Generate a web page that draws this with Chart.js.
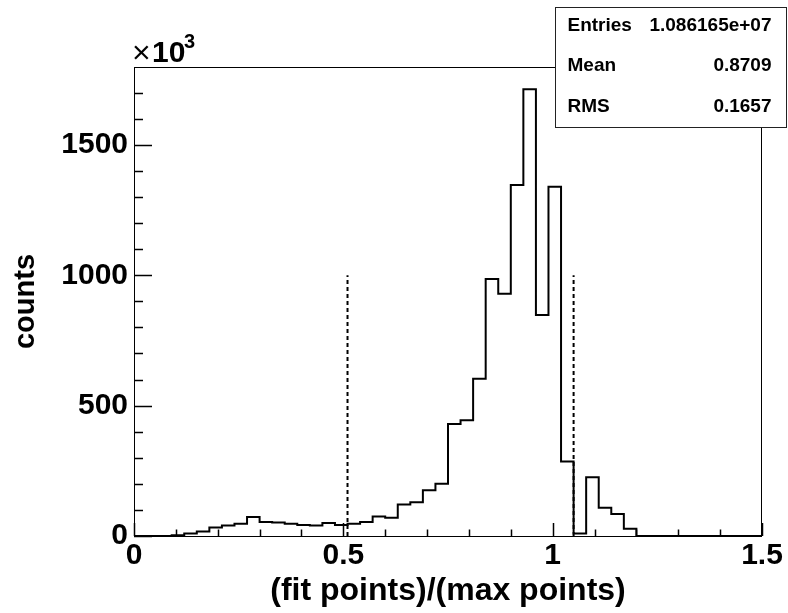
<!DOCTYPE html>
<html>
<head>
<meta charset="utf-8">
<script src="https://cdn.jsdelivr.net/npm/chart.js@4.4.1/dist/chart.umd.min.js"></script>
<style>
  html, body { margin: 0; padding: 0; background: #fff; }
  canvas { display: block; }
</style>
</head>
<body>
<canvas id="histCanvas" width="788" height="613"></canvas>
<script>
'use strict';
// histogram binning (fit points / max points)
const binLow = 0;
const binHigh = 1.5;
const binWidth = 0.03;
// bin contents, in units of 10^3 entries
const binCounts = [
  0, 0, 0, 2.5, 10, 17, 33, 40, 47, 73,
  54, 52, 47, 42, 40, 50, 42, 47, 54, 75,
  70, 121, 129, 175, 200, 430, 444, 603, 986, 929,
  1346, 1713, 848, 1339, 286, 10, 225, 108, 84, 28,
  0, 0, 0, 0, 0, 0, 0, 0, 0, 0
];
// dashed cut markers
const cutValues = [0.51, 1.05];
const cutHeight = 1000;
// axis ticks: labelled majors and unlabelled minors
const xMajorTicks = [0, 0.5, 1, 1.5];
const xMinorTicks = [0.1, 0.2, 0.3, 0.4, 0.6, 0.7, 0.8, 0.9, 1.1, 1.2, 1.3, 1.4];
const yMajorTicks = [0, 500, 1000, 1500];
const yMinorTicks = [100, 200, 300, 400, 600, 700, 800, 900, 1100, 1200, 1300, 1400, 1600, 1700];
// stats box
const statNames = ['Entries', 'Mean', 'RMS'];
const statValues = ['1.086165e+07', '0.8709', '0.1657'];

const FONT = "'Liberation Sans', Arial, Helvetica, sans-serif";
const yMax = 1.05 * Math.max(...binCounts);

// step outline: one point per lower bin edge, closed at the upper edge
const histPoints = binCounts.map((c, i) => ({ x: binLow + i * binWidth, y: c }));
histPoints.push({ x: binHigh, y: 0 });

const cutSets = cutValues.map(v => ({
  data: [{ x: v, y: 0 }, { x: v, y: cutHeight }],
  borderColor: '#000',
  borderWidth: 2,
  borderDash: [4, 3],
  pointRadius: 0,
  fill: false
}));

const isMajor = (v, list) => list.some(t => Math.abs(t - v) < 1e-6);
const setTicks = list => scale => {
  scale.ticks = list.slice().sort((a, b) => a - b).map(v => ({ value: v }));
};
const tickFont = { family: FONT, weight: 'bold', size: 30 };

// ROOT style frame, inward ticks, stats box and exponent label
const rootDecor = {
  id: 'rootDecor',
  afterDraw(chart) {
    const ctx = chart.ctx;
    const a = chart.chartArea;
    const xs = chart.scales.x;
    const ys = chart.scales.y;
    ctx.save();
    ctx.strokeStyle = '#000';
    ctx.lineWidth = 1;
    ctx.strokeRect(a.left + 0.5, a.top + 0.5, a.right - a.left - 1, a.bottom - a.top);

    ctx.lineWidth = 1.5;
    ctx.beginPath();
    ys.ticks.forEach(t => {
      const py = Math.round(ys.getPixelForValue(t.value)) + 0.5;
      const len = isMajor(t.value, yMajorTicks) ? 18 : 9;
      ctx.moveTo(a.left, py);
      ctx.lineTo(a.left + len, py);
    });
    xs.ticks.forEach(t => {
      const px = Math.round(xs.getPixelForValue(t.value)) + 0.5;
      const len = isMajor(t.value, xMajorTicks) ? 13 : 6.5;
      ctx.moveTo(px, a.bottom);
      ctx.lineTo(px, a.bottom - len);
    });
    ctx.stroke();

    // exponent above the y axis
    ctx.fillStyle = '#000';
    ctx.textBaseline = 'alphabetic';
    ctx.textAlign = 'left';
    ctx.font = '32px ' + FONT;
    ctx.fillText('\u00d7', a.left - 2, 63);
    ctx.font = 'bold 30px ' + FONT;
    ctx.fillText('10', a.left + 18, 62);
    ctx.font = 'bold 20px ' + FONT;
    ctx.fillText('3', a.left + 50, 48);

    // stats box
    const bx = 555.5, by = 7.5, bw = 231, bh = 120;
    ctx.fillStyle = '#fff';
    ctx.fillRect(bx, by, bw, bh);
    ctx.strokeStyle = '#222';
    ctx.lineWidth = 1;
    ctx.strokeRect(bx, by, bw, bh);
    ctx.fillStyle = '#000';
    ctx.font = 'bold 19px ' + FONT;
    ctx.textBaseline = 'middle';
    statNames.forEach((name, i) => {
      const ty = by + 18 + i * 40.5;
      ctx.textAlign = 'left';
      ctx.fillText(name, bx + 12, ty);
      ctx.textAlign = 'right';
      ctx.fillText(statValues[i], bx + bw - 15, ty);
    });
    ctx.restore();
  }
};

const ctx = document.getElementById('histCanvas').getContext('2d');
const histChart = new Chart(ctx, {
  type: 'line',
  data: {
    datasets: [{
      data: histPoints,
      borderColor: '#000',
      borderWidth: 2,
      stepped: 'before',
      pointRadius: 0,
      fill: false
    }, ...cutSets]
  },
  options: {
    responsive: false,
    devicePixelRatio: 1,
    animation: false,
    layout: { padding: { top: 67, right: 26, left: 0, bottom: 0 } },
    plugins: {
      legend: { display: false },
      tooltip: { enabled: false }
    },
    scales: {
      x: {
        type: 'linear',
        min: binLow,
        max: binHigh,
        grid: { display: false, drawTicks: false },
        border: { display: false },
        afterBuildTicks: setTicks(xMajorTicks.concat(xMinorTicks)),
        ticks: {
          autoSkip: false,
          maxRotation: 0,
          padding: 2,
          color: '#000',
          font: tickFont,
          callback: v => isMajor(v, xMajorTicks) ? String(v) : ''
        },
        title: {
          display: true,
          text: '(fit points)/(max points)',
          color: '#000',
          font: { family: FONT, weight: 'bold', size: 32 },
          padding: { top: 0, bottom: 3 }
        },
        afterFit: s => { s.height = 77; }
      },
      y: {
        type: 'linear',
        min: 0,
        max: yMax,
        grid: { display: false, drawTicks: false },
        border: { display: false },
        afterBuildTicks: setTicks(yMajorTicks.concat(yMinorTicks)),
        ticks: {
          autoSkip: false,
          padding: 6,
          color: '#000',
          font: tickFont,
          callback: v => isMajor(v, yMajorTicks) ? String(v) : ''
        },
        title: {
          display: true,
          text: 'counts',
          color: '#000',
          font: { family: FONT, weight: 'bold', size: 29 },
          padding: { top: 9, bottom: 0 }
        },
        afterFit: s => { s.width = 134; }
      }
    }
  },
  plugins: [rootDecor]
});
</script>
</body>
</html>
